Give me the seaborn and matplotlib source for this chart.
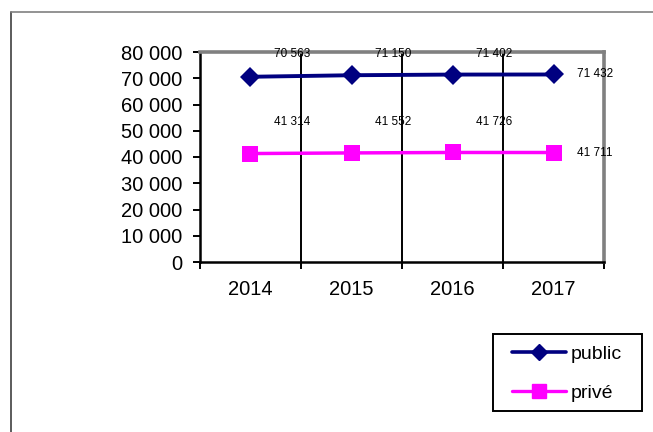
import pandas as pd
import seaborn as sns
import matplotlib.pyplot as plt
from matplotlib.lines import Line2D
from matplotlib.patches import Rectangle

years = ['2014', '2015', '2016', '2017']
public = [70563, 71150, 71402, 71432]
prive = [41314, 41552, 41726, 41711]

sns.set_style('white')
plt.rcParams['font.family'] = ['Liberation Sans', 'DejaVu Sans']
plt.rcParams['text.color'] = 'black'
plt.rcParams['xtick.color'] = 'black'
plt.rcParams['ytick.color'] = 'black'

df = pd.DataFrame({'year': years * 2,
                   'value': public + prive,
                   'serie': ['public'] * 4 + ['privé'] * 4})

W, H = 653, 432
fig = plt.figure(figsize=(W / 100, H / 100), dpi=100)
ax = fig.add_axes([200 / W, 1 - 262 / H, 404 / W, 210 / H])

sns.lineplot(data=df, x='year', y='value', hue='serie', style='serie',
             palette={'public': '#000080', 'privé': '#FF00FF'},
             markers={'public': 'D', 'privé': 's'}, dashes=False,
             linewidth=2.8, markersize=10, markeredgewidth=0, ax=ax,
             legend=False)
for ln in ax.lines:
    if ln.get_marker() == 's':
        ln.set_markersize(11)
        ln.set_linewidth(2.5)

ax.set_xlim(-0.5, 3.5)
ax.set_ylim(0, 80000)
ax.set_yticks(range(0, 80001, 10000))
ax.set_yticklabels([f'{v:,}'.replace(',', ' ') for v in range(0, 80001, 10000)])
ax.set_xlabel('')
ax.set_ylabel('')

ax.set_xticks(range(4))
ax.set_xticks([-0.5, 0.5, 1.5, 2.5, 3.5], minor=True)
ax.tick_params(axis='x', which='major', length=0, pad=13, labelsize=14.5)
ax.tick_params(axis='x', which='minor', length=5, width=1.4, color='black',
               direction='out', bottom=True)
ax.tick_params(axis='y', length=5, width=1.4, color='black', direction='out',
               left=True, labelsize=14.5, pad=8)

for x in [0.5, 1.5, 2.5]:
    ax.axvline(x, color='black', lw=1.4, zorder=0)

for s in ['left', 'bottom']:
    ax.spines[s].set_color('black')
    ax.spines[s].set_linewidth(1.8)
for s in ['top', 'right']:
    ax.spines[s].set_color('#808080')
    ax.spines[s].set_linewidth(2.6)

# data labels, placed like the original sheet
for i, (p, q) in enumerate(zip(public, prive)):
    yp = p if i == 3 else 79300
    yq = q if i == 3 else 53300
    ax.text(i + 0.41, yp, f'{p:,}'.replace(',', ' '), fontsize=8.5,
            ha='center', va='center', clip_on=False)
    ax.text(i + 0.41, yq, f'{q:,}'.replace(',', ' '), fontsize=8.5,
            ha='center', va='center', clip_on=False)

handles = [Line2D([], [], color='#000080', lw=2.6, marker='D', markersize=8),
           Line2D([], [], color='#FF00FF', lw=2.4, marker='s', markersize=10)]
leg = fig.legend(handles, ['public', 'privé'], loc='upper left',
                 bbox_to_anchor=(512 / W, 1 - 345 / H), fontsize=14,
                 frameon=False, handlelength=2.8, handletextpad=0.2,
                 labelspacing=1.1, borderpad=0, borderaxespad=0)
fig.add_artist(Rectangle((493 / W, 1 - 411 / H), 149 / W, 77 / H,
                         transform=fig.transFigure, fill=False,
                         edgecolor='black', lw=1.4))

# outer chart border
fig.add_artist(Line2D([11 / W, 11 / W], [0, 1 - 12 / H], color='#404040',
                      lw=1.2, transform=fig.transFigure))
fig.add_artist(Line2D([11 / W, 1], [1 - 12 / H, 1 - 12 / H], color='#808080',
                      lw=1.2, transform=fig.transFigure))

fig.savefig('out.png', dpi=100)
